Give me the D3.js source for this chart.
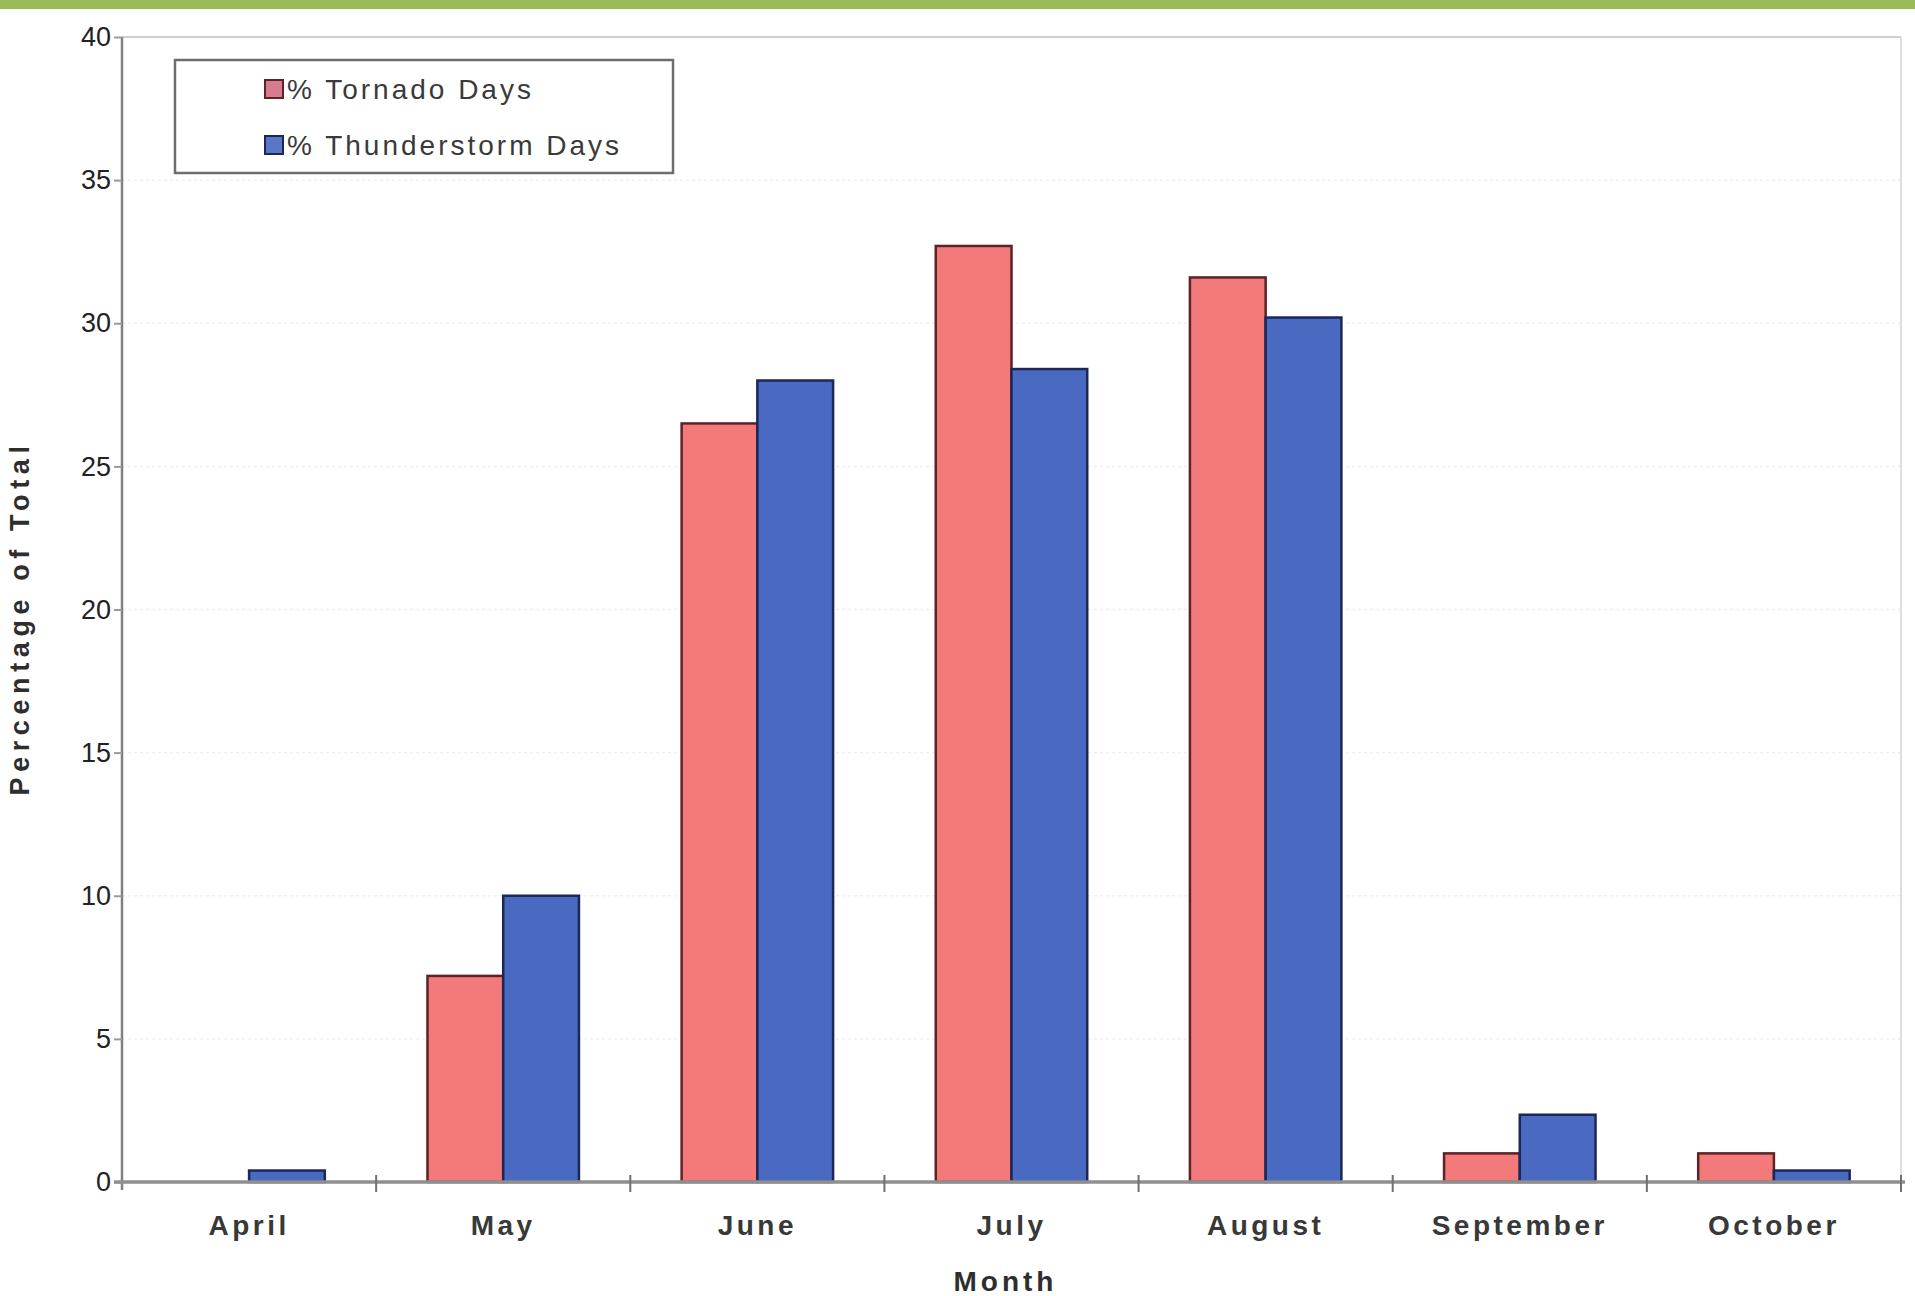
<!DOCTYPE html>
<html>
<head>
<meta charset="utf-8">
<script src="https://cdn.jsdelivr.net/npm/d3@7"></script>
<style>
  html, body { margin: 0; padding: 0; background: #ffffff; }
  svg { display: block; }
  text { font-family: "Liberation Sans", Arial, sans-serif; }
</style>
</head>
<body>
<svg id="chart" width="1915" height="1296"></svg>
<script>
// Monthly share of tornado days vs thunderstorm days
const months = ["April", "May", "June", "July", "August", "September", "October"];
const tornadoDays = [0, 7.2, 26.5, 32.7, 31.6, 1.0, 1.0];
const thunderstormDays = [0.4, 10.0, 28.0, 28.4, 30.2, 2.35, 0.4];
const seriesNames = ["% Tornado Days", "% Thunderstorm Days"];
const yTicks = [0, 5, 10, 15, 20, 25, 30, 35, 40];

const seriesFill = ["#f27a7a", "#4a69c0"];
const seriesStroke = ["#5b2326", "#1b2757"];

const svg = d3.select("#chart");
const W = 1915, H = 1296;
const margin = { left: 122, right: 14, top: 37, bottom: 114 };
const plotW = W - margin.left - margin.right;
const plotH = H - margin.top - margin.bottom;

// green banner strip across the top
svg.append("rect").attr("x", 0).attr("y", 0).attr("width", W).attr("height", 9).attr("fill", "#9bbb59");

const g = svg.append("g").attr("transform", `translate(${margin.left},${margin.top})`);

const x = d3.scaleBand().domain(months).range([0, plotW]).padding(0);
const y = d3.scaleLinear().domain([0, 40]).range([plotH, 0]);
const groupFrac = 0.596;
const xs = d3.scaleBand().domain([0, 1])
  .range([(1 - groupFrac) / 2 * x.bandwidth(), (1 + groupFrac) / 2 * x.bandwidth()]).padding(0);

// faint gridlines
g.append("g").selectAll("line").data(yTicks.filter(d => d > 0 && d < 40)).join("line")
  .attr("x1", 0).attr("x2", plotW)
  .attr("y1", d => y(d)).attr("y2", d => y(d))
  .attr("stroke", "#efefef").attr("stroke-width", 1.5).attr("stroke-dasharray", "3,3");

// plot frame (top and right)
g.append("line").attr("x1", 0).attr("x2", plotW).attr("y1", 0).attr("y2", 0)
  .attr("stroke", "#cfcfcf").attr("stroke-width", 2);
g.append("line").attr("x1", plotW).attr("x2", plotW).attr("y1", 0).attr("y2", plotH)
  .attr("stroke", "#dedede").attr("stroke-width", 2);

// bars
const rows = months.map((m, i) => ({ month: m, vals: [tornadoDays[i], thunderstormDays[i]] }));
const groups = g.append("g").selectAll("g").data(rows).join("g")
  .attr("transform", d => `translate(${x(d.month)},0)`);
groups.selectAll("rect").data(d => d.vals.map((v, k) => ({ v, k })).filter(e => e.v > 0)).join("rect")
  .attr("x", e => xs(e.k))
  .attr("width", xs.bandwidth())
  .attr("y", e => y(e.v))
  .attr("height", e => y(0) - y(e.v))
  .attr("fill", e => seriesFill[e.k])
  .attr("stroke", e => seriesStroke[e.k])
  .attr("stroke-width", 2.5);

// y axis
const yAxis = d3.axisLeft(y).tickValues(yTicks).tickSize(8).tickPadding(3).tickFormat(d3.format("d"));
const ya = g.append("g").call(yAxis);
ya.select(".domain").attr("stroke", "#808080").attr("stroke-width", 2.5)
  .attr("d", `M0,0V${plotH + 8}`);
ya.selectAll(".tick line").attr("stroke", "#9a9a9a").attr("stroke-width", 2);
ya.selectAll(".tick text").attr("font-size", 27).attr("fill", "#222")
  .style("font-family", "'Liberation Sans Narrow', 'Liberation Sans', Arial, sans-serif");

// x axis with ticks on category boundaries
const xa = g.append("g").attr("transform", `translate(0,${plotH})`);
xa.append("line").attr("x1", -8).attr("x2", plotW + 4).attr("y1", 0).attr("y2", 0)
  .attr("stroke", "#8f8f8f").attr("stroke-width", 3.5);
const bounds = d3.range(months.length + 1).map(i => i * x.step());
xa.selectAll("line.tk").data(bounds.slice(1)).join("line").attr("class", "tk")
  .attr("x1", d => d).attr("x2", d => d).attr("y1", -7).attr("y2", 10)
  .attr("stroke", "#707070").attr("stroke-width", 2);
xa.selectAll("text").data(months).join("text")
  .attr("x", d => x(d) + x.bandwidth() / 2)
  .attr("y", 53)
  .attr("text-anchor", "middle")
  .attr("font-size", 28).attr("font-weight", "bold").attr("fill", "#383838")
  .attr("letter-spacing", 3.5)
  .text(d => d);

// axis titles
svg.append("text").attr("x", margin.left + plotW / 2 - 6).attr("y", 1291)
  .attr("text-anchor", "middle").attr("font-size", 28).attr("font-weight", "bold")
  .attr("fill", "#2e2e2e").attr("letter-spacing", 4).text("Month");
svg.append("text").attr("transform", `translate(29,${618}) rotate(-90)`)
  .attr("text-anchor", "middle").attr("font-size", 27).attr("font-weight", "bold")
  .attr("fill", "#2e2e2e").attr("letter-spacing", 5.6).text("Percentage of Total");

// legend
const lg = svg.append("g").attr("transform", "translate(175,60)");
lg.append("rect").attr("x", 0).attr("y", 0).attr("width", 498).attr("height", 113)
  .attr("fill", "#ffffff").attr("stroke", "#6e6e6e").attr("stroke-width", 2.5);
const legendFill = ["#d97b8e", "#5878c6"];
seriesNames.forEach((name, i) => {
  const cy = 29 + i * 56;
  lg.append("rect").attr("x", 90).attr("y", cy - 9).attr("width", 18).attr("height", 18)
    .attr("fill", legendFill[i]).attr("stroke", seriesStroke[i]).attr("stroke-width", 2);
  lg.append("text").attr("x", 112).attr("y", cy + 10)
    .attr("font-size", 28).attr("fill", "#3a3a3a").attr("letter-spacing", 3)
    .text(name);
});
</script>
</body>
</html>
